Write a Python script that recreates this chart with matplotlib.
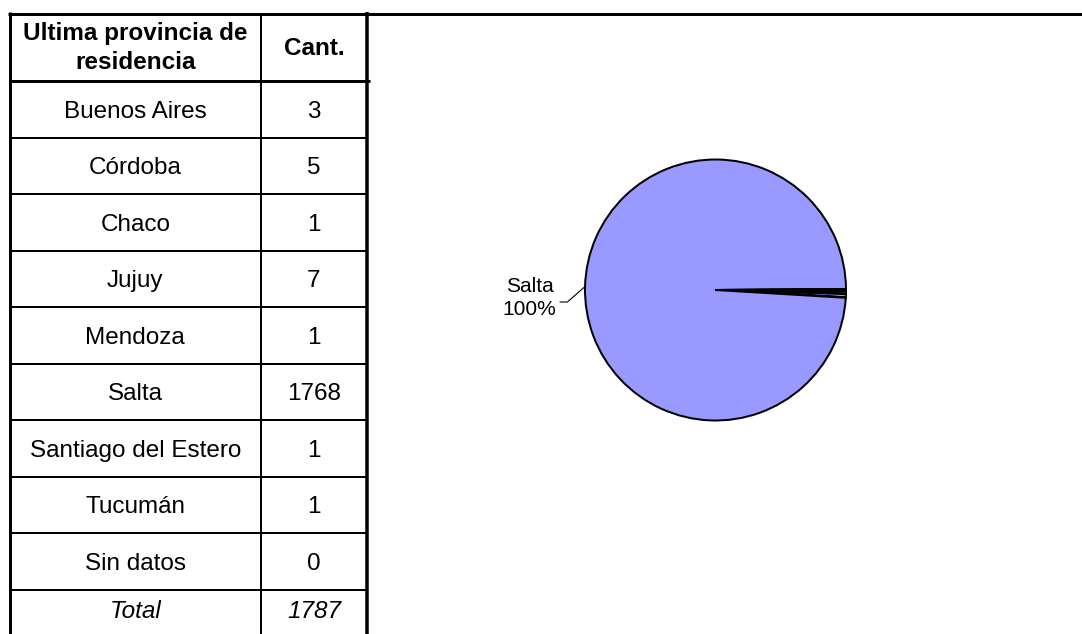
import numpy as np
import matplotlib
matplotlib.use("Agg")
import matplotlib.pyplot as plt

plt.rcParams['font.family'] = ['Liberation Sans', 'DejaVu Sans']

# -------- data --------
header_prov = "Ultima provincia de\nresidencia"
header_cant = "Cant."
provinces = ["Buenos Aires", "Córdoba", "Chaco", "Jujuy", "Mendoza", "Salta",
             "Santiago del Estero", "Tucumán", "Sin datos"]
counts = [3, 5, 1, 7, 1, 1768, 1, 1, 0]
total_label = "Total"
total = sum(counts)
pie_labels = {"Salta": "Salta\n100%"}

W, H = 1082, 634
PX = 0.72  # px -> pt at dpi 100

fig = plt.figure(figsize=(W / 100, H / 100), dpi=100)
ax = fig.add_axes([0, 0, 1, 1])
ax.set_xlim(0, W); ax.set_ylim(H, 0)
ax.axis('off')

# -------- table --------
x_left, x_div, x_right = 9.5, 261, 367
c1, c2 = (x_left + x_div) / 2, (x_div + x_right) / 2
hdr_bottom = 81
row_h = 56.5
fs = 17.5

ax.plot([8, W], [13.5, 13.5], color='black', lw=3 * PX, solid_capstyle='butt')
ax.plot([x_left, x_left], [12, H], color='black', lw=3 * PX, solid_capstyle='butt')
ax.plot([x_right, x_right], [12, H], color='black', lw=3.5 * PX, solid_capstyle='butt')
ax.plot([x_div, x_div], [13, H], color='black', lw=2 * PX, solid_capstyle='butt')
ax.plot([x_left, x_right + 3], [hdr_bottom, hdr_bottom], color='black', lw=3 * PX, solid_capstyle='butt')

ax.text(c1, 48, header_prov, ha='center', va='center', fontsize=fs, fontweight='bold',
        linespacing=1.35)
ax.text(c2, 55, header_cant, ha='center', va='baseline', fontsize=fs, fontweight='bold')

for i, (p, n) in enumerate(zip(provinces, counts)):
    top = hdr_bottom + i * row_h
    bot = top + row_h
    ax.plot([x_left, x_right], [bot, bot], color='black', lw=2 * PX, solid_capstyle='butt')
    yb = (top + bot) / 2 + 8.3
    ax.text(c1, yb, p, ha='center', va='baseline', fontsize=fs)
    ax.text(c2, yb, str(n), ha='center', va='baseline', fontsize=fs)

yt = hdr_bottom + len(provinces) * row_h + 28
ax.text(c1, yt, total_label, ha='center', va='baseline', fontsize=fs, style='italic')
ax.text(c2, yt, str(total), ha='center', va='baseline', fontsize=fs, style='italic')

# -------- pie --------
cx, cy, r = 715.5, 290, 130.5
axp = fig.add_axes([(cx - r) / W, (H - cy - r) / H, 2 * r / W, 2 * r / H])
wedges, _ = axp.pie(counts, startangle=0, counterclock=False, radius=1,
                    colors=['#9999FF'] * len(counts),
                    wedgeprops=dict(edgecolor='black', linewidth=2 * PX))
axp.set_xlim(-1, 1); axp.set_ylim(-1, 1)
axp.set_aspect('equal')
axp.axis('off')

for name, lab in pie_labels.items():
    w = wedges[provinces.index(name)]
    ang = np.deg2rad((w.theta1 + w.theta2) / 2)
    ex, ey = np.cos(ang), np.sin(ang)
    knee = (-1.135, -0.092)
    end = (-1.19, -0.092)
    axp.plot([ex, knee[0], end[0]], [ey, knee[1], end[1]], color='black', lw=0.8, clip_on=False)
    axp.text(-1.425, -0.06, lab, ha='center', va='center', fontsize=15, linespacing=1.25)

fig.savefig("out.png", dpi=100)
